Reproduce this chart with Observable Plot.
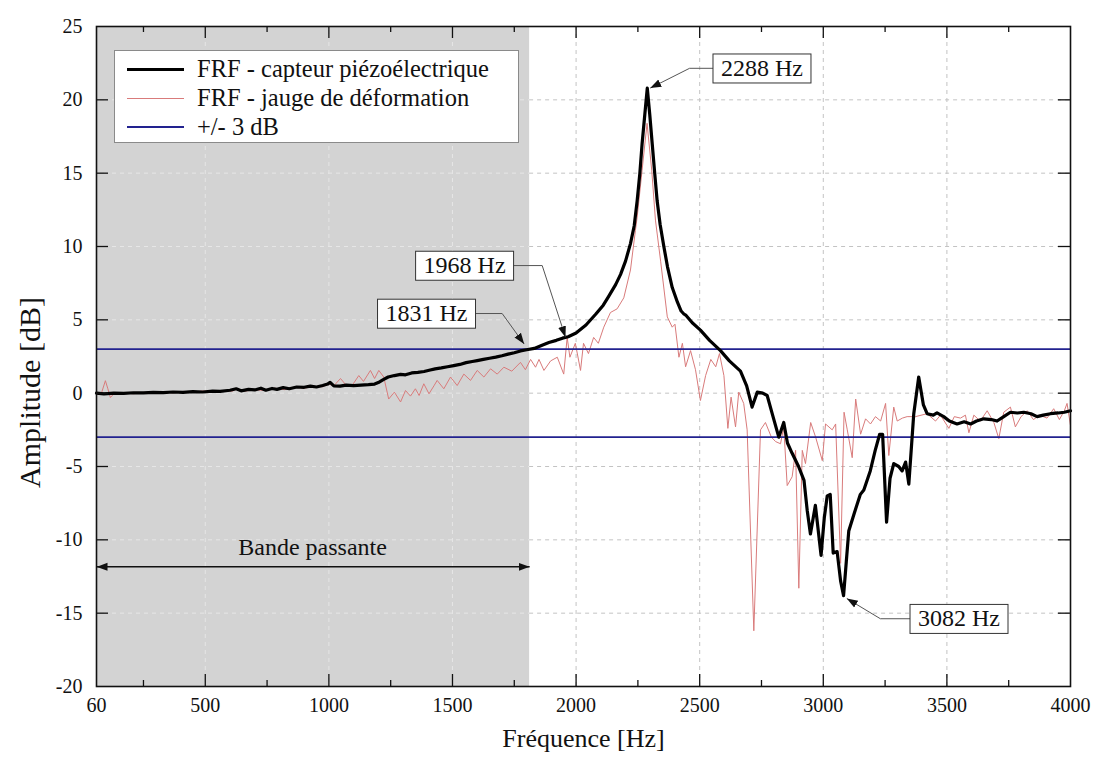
<!DOCTYPE html>
<html>
<head>
<meta charset="utf-8">
<script src="https://cdn.jsdelivr.net/npm/d3@7"></script>
<script src="https://cdn.jsdelivr.net/npm/@observablehq/plot@0.6"></script>
<style>
  html, body { margin: 0; padding: 0; background: #fff; }
  #wrap { position: relative; width: 1097px; height: 758px; font-family: "Liberation Serif", "Times New Roman", serif; }
  #legend { position: absolute; left: 114px; top: 50px; width: 405px; height: 93px; background: #fff; border: 1px solid #8a8a8a; box-sizing: border-box; }
  .lrow { position: absolute; left: 12px; height: 28px; display: flex; align-items: center; font-size: 24.5px; color: #111; white-space: nowrap; }
  .sw { display: inline-block; width: 57px; margin-right: 13px; }
</style>
</head>
<body>
<div id="wrap"><div id="legend"></div></div>
<script>
// ---------- data ----------
const piezoFreq = [60,90,130,170,210,250,290,330,370,410,450,490,530,560,600,625,645,675,700,725,745,770,790,815,840,870,900,925,950,975,995,1005,1020,1045,1070,1100,1130,1160,1185,1200,1220,1240,1265,1290,1310,1335,1360,1385,1410,1430,1455,1480,1505,1530,1555,1580,1600,1625,1650,1675,1700,1725,1750,1775,1800,1831,1860,1890,1920,1945,1968,2000,2040,2080,2110,2130,2160,2180,2200,2220,2235,2247,2258,2267,2278,2288,2298,2308,2318,2328,2340,2355,2370,2389,2410,2425,2436,2445,2470,2503,2540,2584,2620,2665,2690,2712,2733,2755,2773,2795,2820,2840,2855,2874,2900,2922,2935,2948,2968,2991,3004,3016,3028,3040,3056,3070,3082,3093,3103,3125,3150,3164,3190,3210,3228,3240,3256,3270,3285,3305,3319,3333,3346,3366,3386,3405,3420,3445,3460,3487,3510,3541,3570,3596,3620,3649,3680,3703,3730,3757,3785,3811,3840,3865,3890,3919,3950,3975,4000];
const piezoAmp = [0.00,-0.05,0.00,-0.02,0.03,0.02,0.06,0.04,0.08,0.06,0.10,0.08,0.14,0.12,0.20,0.30,0.16,0.26,0.22,0.34,0.20,0.32,0.26,0.38,0.30,0.42,0.40,0.48,0.42,0.52,0.62,0.74,0.50,0.48,0.55,0.52,0.55,0.58,0.62,0.72,0.92,1.10,1.20,1.28,1.25,1.38,1.42,1.48,1.58,1.66,1.72,1.80,1.88,1.96,2.08,2.16,2.22,2.30,2.38,2.46,2.55,2.66,2.76,2.88,2.96,3.05,3.25,3.45,3.60,3.75,3.85,4.10,4.65,5.40,6.00,6.55,7.40,8.10,9.00,10.20,11.40,13.10,15.00,17.00,19.00,20.80,19.00,17.00,15.00,13.10,11.50,10.00,8.60,7.20,6.20,5.60,5.40,5.30,4.80,4.30,3.60,2.90,2.20,1.50,0.50,-0.95,0.07,0.00,-0.16,-1.50,-3.00,-2.00,-3.40,-4.10,-5.00,-5.95,-8.00,-9.60,-7.65,-11.06,-8.50,-7.00,-6.90,-10.90,-10.80,-12.80,-13.80,-11.50,-9.40,-8.20,-6.90,-6.60,-5.30,-3.90,-2.80,-2.80,-8.80,-5.80,-4.80,-5.00,-5.30,-4.70,-6.20,-1.40,1.10,-0.80,-1.40,-1.50,-1.35,-1.60,-1.90,-2.10,-1.95,-2.10,-1.90,-1.75,-1.80,-1.90,-1.60,-1.30,-1.35,-1.30,-1.40,-1.60,-1.50,-1.40,-1.35,-1.30,-1.20];

const gaugeFreq = [60,80,96,106,116,130,170,210,250,290,330,370,410,450,490,530,570,610,630,660,700,740,780,820,860,900,940,975,1000,1020,1047,1067,1095,1121,1140,1168,1185,1202,1222,1242,1265,1290,1310,1330,1350,1365,1384,1405,1425,1438,1465,1492,1519,1546,1573,1600,1627,1654,1681,1708,1740,1775,1795,1816,1836,1850,1870,1897,1924,1950,1964,1975,1997,2018,2030,2050,2071,2090,2112,2139,2166,2193,2220,2240,2247,2267,2287,2306,2321,2342,2369,2389,2400,2416,2430,2443,2463,2483,2503,2524,2545,2565,2580,2598,2614,2627,2645,2658,2678,2692,2719,2746,2766,2790,2807,2827,2840,2854,2874,2888,2901,2915,2928,2949,2969,2996,3009,3036,3050,3070,3084,3097,3117,3131,3151,3171,3191,3211,3232,3252,3265,3285,3299,3320,3339,3373,3420,3454,3474,3508,3530,3555,3575,3589,3609,3635,3663,3690,3710,3730,3757,3777,3800,3825,3850,3875,3905,3932,3955,3975,3986,4000];
const gaugeAmp = [-0.10,0.00,0.85,0.30,-0.30,-0.05,0.02,-0.04,0.05,0.00,0.08,0.02,0.12,0.06,0.15,0.10,0.18,0.14,0.30,0.14,0.24,0.18,0.34,0.24,0.40,0.34,0.46,0.44,0.62,0.50,1.00,0.60,0.55,1.20,0.80,1.55,1.00,1.55,1.10,-0.40,0.07,-0.60,0.18,-0.20,0.30,-0.16,0.64,-0.04,0.50,0.87,0.30,1.10,0.52,1.30,0.87,1.55,1.10,1.66,1.30,1.77,1.50,2.10,1.60,2.30,1.77,2.30,1.55,2.20,2.45,1.30,3.80,2.45,3.40,1.55,3.40,2.70,3.80,3.40,4.50,5.50,5.75,6.50,8.40,11.10,12.00,15.20,18.40,15.20,11.80,9.00,5.20,4.50,4.70,2.45,3.40,1.80,2.90,1.60,-0.50,1.20,2.30,1.80,2.70,1.20,-2.40,-0.27,-2.30,0.07,-0.70,-2.50,-16.20,-2.50,-2.00,-3.00,-3.30,-3.45,-2.30,-6.30,-5.70,-3.90,-13.30,-3.90,-4.80,-2.00,-3.00,-4.60,-2.10,-2.50,-2.10,-11.60,-1.30,-2.50,-4.40,-0.40,-2.80,-1.75,-2.10,-1.60,-1.90,-0.70,-4.25,-0.95,-1.90,-1.70,-1.60,-1.60,-1.40,-1.90,-1.50,-2.40,-1.60,-1.70,-1.50,-2.70,-1.50,-1.90,-1.20,-2.00,-3.10,-1.30,-0.95,-2.30,-1.60,-1.20,-1.80,-1.50,-1.70,-1.06,-1.80,-1.20,-0.70,-2.20];

const limitLevels = [3, -3];
const xTickValues = [60, 500, 1000, 1500, 2000, 2500, 3000, 3500, 4000];
const xMinorTicks = [250, 750, 1250, 1750, 2250, 2750, 3250, 3750];
const yTickValues = [-20, -15, -10, -5, 0, 5, 10, 15, 20, 25];
const gridX = [500, 1000, 1500, 2000, 2500, 3000, 3500];
const gridY = [-15, -10, -5, 0, 5, 10, 15, 20];
const bandRange = [60, 1812];            // "Bande passante" shading (Hz)
const bandLabel = {f: 934, a: -10.5, label: "Bande passante"};
const bandArrowLevel = -11.84;

const annLabels = ["2288 Hz", "1968 Hz", "1831 Hz", "3082 Hz"];
const annTargetF = [2300, 1957, 1790, 3095];
const annTargetA = [20.8, 3.82, 3.35, -14.0];
const annLabelF = [2752, 1549, 1395, 3549];
const annLabelA = [22.15, 8.7, 5.43, -15.38];
const annElbowF = [2459, 1863, 1701, 3231];

const legendItems = ["FRF - capteur piézoélectrique", "FRF - jauge de déformation", "+/- 3 dB"];

// ---------- layout / style ----------
const W = 1097, H = 758, mL = 96, mR = 27, mT = 26, mB = 72;
const plotW = W - mL - mR, plotH = H - mT - mB;
const C_PIEZO = "#000000", C_GAUGE = "#d97b7b", C_LIMIT = "#22228f";
const GRID_W = "#c3c3c3", GRID_B = "#e6e6e6", BAND = "#d3d3d3";

const piezo = piezoFreq.map((f, i) => ({f, a: piezoAmp[i]}));
const gauge = gaugeFreq.map((f, i) => ({f, a: gaugeAmp[i]}));
const annotations = annLabels.map((label, i) => ({
  label, f: annTargetF[i], a: annTargetA[i], lf: annLabelF[i], la: annLabelA[i], ef: annElbowF[i]
}));

const filledArrow = (orient) => (color, context) => {
  const doc = (context && context.document) || document;
  const ns = "http://www.w3.org/2000/svg";
  const m = doc.createElementNS(ns, "marker");
  m.setAttribute("viewBox", "-10 -5 10 10");
  m.setAttribute("refX", "0");
  m.setAttribute("refY", "0");
  m.setAttribute("markerUnits", "userSpaceOnUse");
  m.setAttribute("markerWidth", "11");
  m.setAttribute("markerHeight", "11");
  m.setAttribute("orient", orient);
  const p = doc.createElementNS(ns, "path");
  p.setAttribute("d", "M-10,-3.6L0,0L-10,3.6Z");
  p.setAttribute("fill", "#111");
  p.setAttribute("stroke", "none");
  m.appendChild(p);
  return m;
};

const chart = Plot.plot({
  width: W, height: H,
  marginLeft: mL, marginRight: mR, marginTop: mT, marginBottom: mB,
  style: {fontFamily: '"Liberation Serif", "Times New Roman", serif', background: "#fff", color: "#111"},
  x: {domain: [60, 4000]},
  y: {domain: [-20, 25]},
  marks: [
    Plot.rect([bandRange], {x1: d => d[0], x2: d => d[1], fill: BAND}),
    Plot.ruleX(gridX.filter(v => v > bandRange[1]), {stroke: GRID_W, strokeDasharray: "4,4"}),
    Plot.ruleX(gridX.filter(v => v < bandRange[1]), {stroke: GRID_B, strokeDasharray: "4,4"}),
    Plot.ruleY(gridY, {x1: bandRange[1], x2: 4000, stroke: GRID_W, strokeDasharray: "4,4"}),
    Plot.ruleY(gridY, {x1: 60, x2: bandRange[1], stroke: GRID_B, strokeDasharray: "4,4"}),
    Plot.line(gauge, {x: "f", y: "a", stroke: C_GAUGE, strokeWidth: 1}),
    Plot.ruleY(limitLevels, {stroke: C_LIMIT, strokeWidth: 1.7}),
    Plot.line(piezo, {x: "f", y: "a", stroke: C_PIEZO, strokeWidth: 3.2, strokeLinejoin: "round"}),
    // ticks (inward)
    Plot.ruleX(xTickValues.slice(1, -1), {insetTop: plotH - 12, stroke: "#111", strokeWidth: 1.3}),
    Plot.ruleX(xTickValues.slice(1, -1), {insetBottom: plotH - 12, stroke: "#111", strokeWidth: 1.3}),
    Plot.ruleX(xMinorTicks, {insetTop: plotH - 6, stroke: "#111", strokeWidth: 1.3}),
    Plot.ruleX(xMinorTicks, {insetBottom: plotH - 6, stroke: "#111", strokeWidth: 1.3}),
    Plot.ruleY(yTickValues.slice(1, -1), {insetRight: plotW - 12, stroke: "#111", strokeWidth: 1.3}),
    Plot.ruleY(yTickValues.slice(1, -1), {insetLeft: plotW - 12, stroke: "#111", strokeWidth: 1.3}),
    Plot.frame({stroke: "#111", strokeWidth: 1.6}),
    Plot.axisX({ticks: xTickValues, tickSize: 0, tickPadding: 11, tickFormat: d => String(d), fontSize: 20, label: null}),
    Plot.axisY({ticks: yTickValues, tickSize: 0, tickPadding: 14, tickFormat: d => String(d), fontSize: 20, label: null}),
    Plot.text(["Fréquence [Hz]"], {frameAnchor: "bottom", dy: 60, fontSize: 26, textAnchor: "middle"}),
    Plot.text(["Amplitude [dB]"], {frameAnchor: "left", dx: -66, dy: 36, rotate: -90, fontSize: 30, textAnchor: "middle"}),
    // bande passante
    Plot.link([bandRange], {x1: d => d[0], x2: d => d[1], y1: () => bandArrowLevel, y2: () => bandArrowLevel,
      stroke: "#111", strokeWidth: 1.5, markerStart: filledArrow("auto-start-reverse"), markerEnd: filledArrow("auto")}),
    Plot.text([bandLabel], {x: "f", y: "a", text: "label", fontSize: 24, fill: "#111"}),
    // annotations
    Plot.link(annotations, {x1: "lf", y1: "la", x2: "ef", y2: "la", stroke: "#555", strokeWidth: 1}),
    Plot.link(annotations, {x1: "ef", y1: "la", x2: "f", y2: "a", stroke: "#555", strokeWidth: 1, markerEnd: filledArrow("auto")}),
    Plot.text(annotations, {x: "lf", y: "la", text: "label", fontSize: 24, fill: "#111"})
  ]
});

const wrap = document.getElementById("wrap");
wrap.insertBefore(chart, wrap.firstChild);
chart.style.position = "absolute";
chart.style.left = "0px";
chart.style.top = "0px";

// boxes behind annotation labels
const ns = "http://www.w3.org/2000/svg";
Array.from(chart.querySelectorAll("text"))
  .filter(t => annLabels.includes(t.textContent.trim()))
  .forEach(t => {
    const b = t.getBBox();
    const r = document.createElementNS(ns, "rect");
    r.setAttribute("x", b.x - 8);
    r.setAttribute("y", b.y - 1);
    r.setAttribute("width", b.width + 16);
    r.setAttribute("height", b.height + 3);
    r.setAttribute("fill", "#fff");
    r.setAttribute("stroke", "#333");
    r.setAttribute("stroke-width", "1");
    if (t.getAttribute("transform")) r.setAttribute("transform", t.getAttribute("transform"));
    t.parentNode.insertBefore(r, t);
  });

// legend
const legend = document.getElementById("legend");
const swatches = [
  {color: C_PIEZO, w: 3.2},
  {color: C_GAUGE, w: 1},
  {color: C_LIMIT, w: 2}
];
const rowTops = [4, 33, 62];
legendItems.forEach((txt, i) => {
  const row = document.createElement("div");
  row.className = "lrow";
  row.style.top = rowTops[i] + "px";
  const sw = document.createElement("span");
  sw.className = "sw";
  sw.style.borderTop = `${swatches[i].w}px solid ${swatches[i].color}`;
  row.appendChild(sw);
  const s = document.createElement("span");
  s.textContent = txt;
  row.appendChild(s);
  legend.appendChild(row);
});
</script>
</body>
</html>
